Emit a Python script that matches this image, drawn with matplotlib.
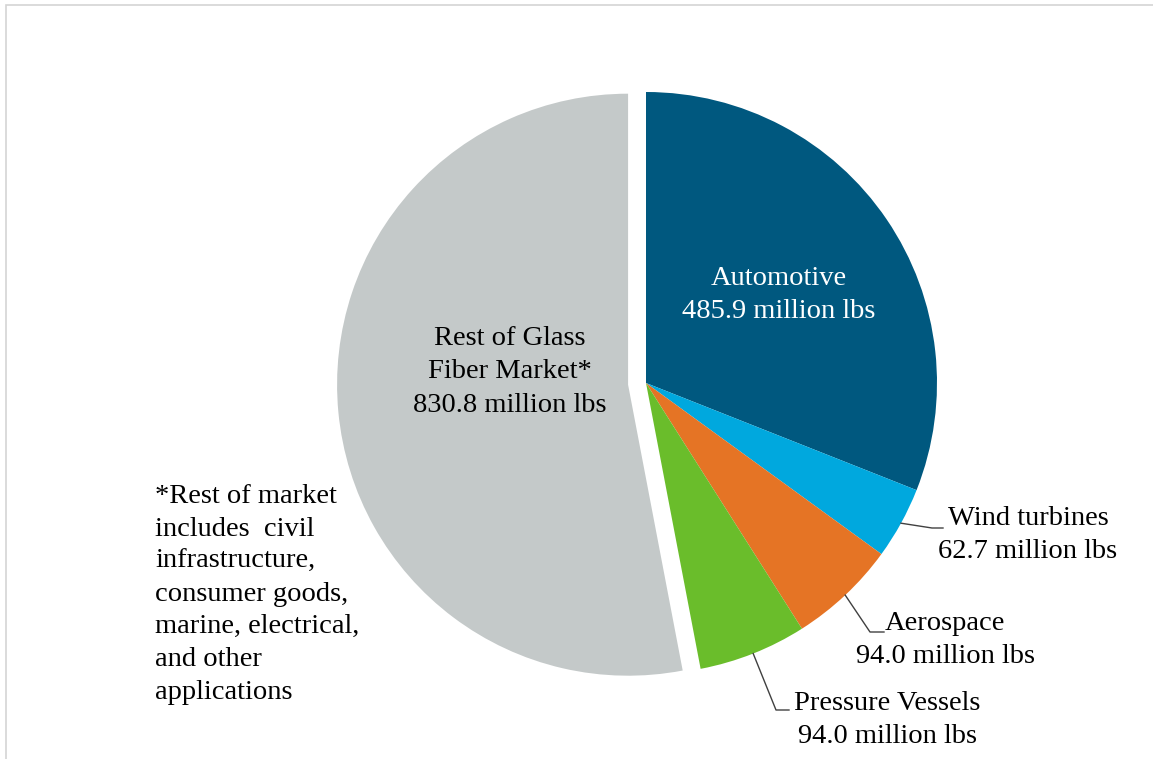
import numpy as np
import matplotlib.pyplot as plt
from matplotlib.patches import Rectangle

plt.rcParams['font.family'] = ['Liberation Serif', 'DejaVu Serif']

# glass fiber demand, million lbs
segments = ["Automotive", "Wind turbines", "Aerospace", "Pressure Vessels",
            "Rest of Glass\nFiber Market*"]
values = [485.9, 62.7, 94.0, 94.0, 830.8]
colors = ["#00587f", "#00a8de", "#e57425", "#6abd2b", "#c4c9c9"]

footnote = ("*Rest of market\nincludes  civil\ninfrastructure,\nconsumer goods,\n"
            "marine, electrical,\nand other\napplications")

W, H = 1153, 759
fig = plt.figure(figsize=(W / 100, H / 100), dpi=100)
ax = fig.add_axes([0, 0, 1, 1])

# outer frame
fig.patches.append(Rectangle((6 / W, -0.05), 1.1, (H - 5) / H + 0.05,
                             transform=fig.transFigure, fill=False,
                             edgecolor="#d4d4d4", linewidth=1.2))

cx, cy, r = 646, H - 383, 291
# pull the "rest of market" slice out (offset in data units)
explode = [0, 0, 0, 0, 18]
wedges, _ = ax.pie(values, colors=colors, startangle=90, counterclock=False,
                   explode=explode, center=(cx, cy), radius=r,
                   wedgeprops=dict(linewidth=0))
ax.set_xlim(0, W)
ax.set_ylim(0, H)
ax.set_aspect('equal')
ax.axis('off')

def mid_angle(w):
    return np.deg2rad((w.theta1 + w.theta2) / 2)

fs = 20.5
ls = 1.44
ax.text(779, H - 295, f"{segments[0]}\n{values[0]:.1f} million lbs", color="white",
        ha="center", va="center", fontsize=fs, linespacing=ls)
ax.text(510, H - 372, f"{segments[4]}\n{values[4]:.1f} million lbs", color="black",
        ha="center", va="center", fontsize=fs, linespacing=ls)

# outside labels with elbow leaders
outside = [(1, (932, 528), (943, 528), (1028, 535)),
           (2, (870, 632), (884, 632), (945, 640)),
           (3, (776, 710), (789, 710), (887, 720))]
for i, elbow, end, txt in outside:
    a = mid_angle(wedges[i])
    x0, y0 = cx + r * np.cos(a), cy + r * np.sin(a)
    ax.plot([x0, elbow[0], end[0]], [y0, H - elbow[1], H - end[1]],
            color="#404040", linewidth=1.0)
    ax.text(txt[0], H - txt[1], f"{segments[i]}\n{values[i]:.1f} million lbs",
            ha="center", va="center", fontsize=fs, linespacing=ls)

ax.text(155, H - 484, footnote, ha="left", va="top", fontsize=fs, linespacing=1.40)

fig.savefig("out.png", dpi=100)
